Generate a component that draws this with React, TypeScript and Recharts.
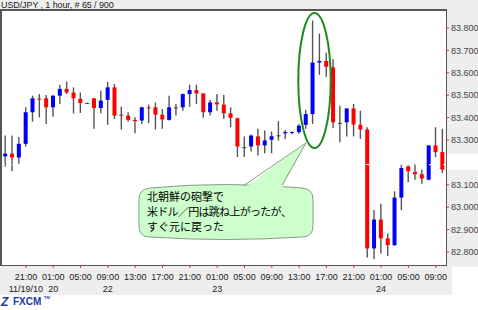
import React from 'react';
import { ComposedChart, Bar, XAxis, YAxis, ReferenceLine } from 'recharts';

// hourly USD/JPY candles, 65 bars
const opens = [
  83.227, 83.239, 83.222, 83.283, 83.424, 83.485, 83.486, 83.446, 83.498, 83.528,
  83.512, 83.484, 83.465, 83.486, 83.443, 83.479, 83.535, 83.413, 83.409, 83.390,
  83.387, 83.446, 83.446, 83.413, 83.390, 83.446, 83.446, 83.505, 83.523, 83.508,
  83.424, 83.468, 83.458, 83.419, 83.397, 83.268, 83.271, 83.316, 83.276, 83.301,
  83.321, 83.330, 83.333, 83.335, 83.368, 83.416, 83.646, 83.653, 83.624, 83.377,
  83.379, 83.441, 83.368, 83.347, 82.816, 82.945, 82.861, 82.831, 83.043, 83.182,
  83.157, 83.147, 83.123, 83.276, 83.246,
];
const highs = [
  83.320, 83.320, 83.313, 83.446, 83.498, 83.505, 83.501, 83.500, 83.547, 83.561,
  83.535, 83.512, 83.467, 83.486, 83.520, 83.560, 83.550, 83.449, 83.424, 83.402,
  83.449, 83.458, 83.467, 83.439, 83.498, 83.461, 83.508, 83.547, 83.547, 83.508,
  83.479, 83.505, 83.501, 83.446, 83.400, 83.316, 83.324, 83.350, 83.342, 83.338,
  83.384, 83.345, 83.338, 83.372, 83.434, 83.834, 83.775, 83.690, 83.661, 83.453,
  83.441, 83.461, 83.431, 83.357, 82.987, 83.016, 82.883, 83.071, 83.191, 83.187,
  83.194, 83.168, 83.276, 83.357, 83.350,
];
const lows = [
  83.182, 83.161, 83.194, 83.271, 83.382, 83.401, 83.372, 83.404, 83.461, 83.505,
  83.419, 83.421, 83.461, 83.350, 83.419, 83.368, 83.394, 83.347, 83.382, 83.330,
  83.372, 83.375, 83.347, 83.350, 83.387, 83.409, 83.431, 83.449, 83.461, 83.399,
  83.409, 83.431, 83.394, 83.357, 83.224, 83.224, 83.249, 83.231, 83.241, 83.241,
  83.298, 83.305, 83.326, 83.328, 83.350, 83.372, 83.591, 83.582, 83.354, 83.290,
  83.316, 83.316, 83.305, 82.776, 82.768, 82.794, 82.782, 82.827, 82.987, 83.112,
  83.123, 83.105, 83.120, 83.224, 83.152,
];
const closes = [
  83.239, 83.222, 83.283, 83.424, 83.486, 83.482, 83.446, 83.498, 83.528, 83.512,
  83.486, 83.465, 83.465, 83.443, 83.476, 83.535, 83.409, 83.410, 83.390, 83.384,
  83.446, 83.445, 83.413, 83.392, 83.446, 83.446, 83.505, 83.523, 83.508, 83.424,
  83.468, 83.459, 83.419, 83.399, 83.271, 83.268, 83.320, 83.276, 83.298, 83.317,
  83.321, 83.336, 83.336, 83.364, 83.416, 83.646, 83.653, 83.627, 83.379, 83.377,
  83.441, 83.369, 83.347, 82.816, 82.945, 82.861, 82.831, 83.043, 83.175, 83.161,
  83.147, 83.128, 83.276, 83.246, 83.168,
];

const tickIdx = [3, 7, 11, 15, 19, 23, 27, 31, 35, 39, 43, 47, 51, 55, 59, 63];
const tickTimes = [
  '21:00', '01:00', '05:00', '09:00', '13:00', '17:00', '21:00', '01:00',
  '05:00', '09:00', '13:00', '17:00', '21:00', '01:00', '05:00', '09:00',
];
const tickDates = ['11/19/10', '20', '', '22', '', '', '', '23', '', '', '', '', '', '24', '', ''];

const priceTicks = [82.8, 82.9, 83.0, 83.1, 83.3, 83.4, 83.5, 83.6, 83.7, 83.8];
const lastPrice = 83.19;

const noteLines = ['北朝鮮の砲撃で', '米ドル／円は跳ね上がったが、', 'すぐ元に戻った'];

const data = opens.map((o, i) => ({
  i,
  open: o,
  high: highs[i],
  low: lows[i],
  close: closes[i],
  range: [lows[i], highs[i]],
}));

const axisFont = 'Arial, "Liberation Sans", sans-serif';

const Candle = (props: any) => {
  const { x, y, width, height, payload } = props;
  if (!payload) return null;
  const { open, close, high, low } = payload;
  const top = Math.min(y, y + height);
  const h = Math.abs(height);
  const py = (p: number) => top + ((high - p) / (high - low)) * h;
  const cx = x + width / 2;
  const bw = 4;
  const doji = open === close;
  const color = doji ? '#444' : close > open ? '#0000ff' : '#ff0000';
  const bTop = py(Math.max(open, close));
  const bH = Math.max(1, py(Math.min(open, close)) - bTop);
  return (
    <g>
      <line x1={cx} x2={cx} y1={top} y2={top + h} stroke="#555" strokeWidth={1.4} />
      <rect x={cx - bw / 2} y={bTop} width={bw} height={bH} fill={color} />
    </g>
  );
};

const TimeTick = (props: any) => {
  const { x, y, payload } = props;
  const k = tickIdx.indexOf(payload.value);
  if (k < 0) return null;
  return (
    <g fontFamily={axisFont} fontSize={9} fill="#222">
      <text x={x} y={y + 9.5} textAnchor="middle">{tickTimes[k]}</text>
      {tickDates[k] ? (
        <text x={x} y={y + 21.5} textAnchor="middle">{tickDates[k]}</text>
      ) : null}
    </g>
  );
};

export default function App() {
  return (
    <div style={{ position: 'absolute', left: 0, top: 0, width: 478, height: 310, background: '#fff', overflow: 'hidden' }}>
      {/* grey panels behind the chart */}
      <div style={{ position: 'absolute', left: 0, top: 0, width: 478, height: 267, background: '#eeeeee' }} />
      <div style={{ position: 'absolute', left: 0, top: 0, width: 452, height: 295, background: '#eeeeee' }} />
      {/* plot frame */}
      <div
        style={{
          position: 'absolute', left: 0, top: 9, width: 447, height: 257, boxSizing: 'border-box',
          background: '#fff', borderTop: '2px solid #555', borderLeft: '2px solid #555',
          borderRight: '1px solid #555', borderBottom: '1px solid #555',
        }}
      />
      {/* last price label box */}
      <div style={{ position: 'absolute', left: 447, top: 154, width: 31, height: 16, background: '#fff' }} />
      <div style={{ position: 'absolute', left: 1, top: 0, fontFamily: axisFont, fontSize: 9, color: '#222', lineHeight: '10px', whiteSpace: 'nowrap', letterSpacing: -0.1 }}>
        USD/JPY , 1 hour, # 65 / 900
      </div>

      <div style={{ position: 'absolute', left: 0, top: 0 }}>
        <ComposedChart width={478} height={310} data={data} margin={{ top: 11, right: 0, left: 2, bottom: 0 }}>
          <XAxis
            dataKey="i"
            type="category"
            ticks={tickIdx}
            interval={0}
            height={45}
            axisLine={false}
            tickSize={3}
            tickLine={{ stroke: '#e03030' }}
            tick={<TimeTick />}
          />
          <YAxis
            orientation="right"
            width={32}
            domain={[82.742, 83.876]}
            allowDataOverflow
            ticks={priceTicks}
            interval={0}
            axisLine={false}
            tickSize={3}
            tickMargin={2}
            tickLine={{ stroke: '#e03030' }}
            tick={{ fontSize: 9, fill: '#444', fontFamily: axisFont }}
            tickFormatter={(v: number) => v.toFixed(3)}
          />
          <Bar dataKey="range" shape={<Candle />} isAnimationActive={false} />
          <ReferenceLine y={lastPrice} stroke="#fff" strokeDasharray="3 4" />
        </ComposedChart>
      </div>

      {/* annotation overlay */}
      <svg width={478} height={310} style={{ position: 'absolute', left: 0, top: 0, pointerEvents: 'none' }}>
        <ellipse cx={314.5} cy={80.5} rx={16.2} ry={67.5} fill="none" stroke="#1e8a1e" strokeWidth={2} />
        <path
          d="M150,188 Q225,181 302,188 Q313,189 313,199 L313,226 Q313,237 302,237 Q225,242 150,237 Q139,237 139,226 L139,199 Q139,189 150,188 Z"
          fill="#ccffcc"
          stroke="#8a9a8a"
          strokeWidth={1}
        />
        <polygon points="243,189 306,143 282,188" fill="#ccffcc" />
        <polyline points="243,186 306,143 282,185" fill="none" stroke="#8a9a8a" strokeWidth={1} />
        <g fontFamily='"Noto Sans CJK JP", sans-serif' fontSize={11} fill="#000">
          {noteLines.map((t, k) => (
            <text key={k} x={147} y={201 + k * 15} letterSpacing={k === 1 ? -0.7 : 0}>{t}</text>
          ))}
        </g>
        <g fill="#1a3c9c" fontFamily={axisFont} fontWeight="bold">
          <text x={1} y={306} fontSize={12} fontStyle="italic">Z</text>
          <text x={13} y={305} fontSize={10}>FXCM</text>
          <text x={44} y={299} fontSize={4}>TM</text>
        </g>
      </svg>
    </div>
  );
}
